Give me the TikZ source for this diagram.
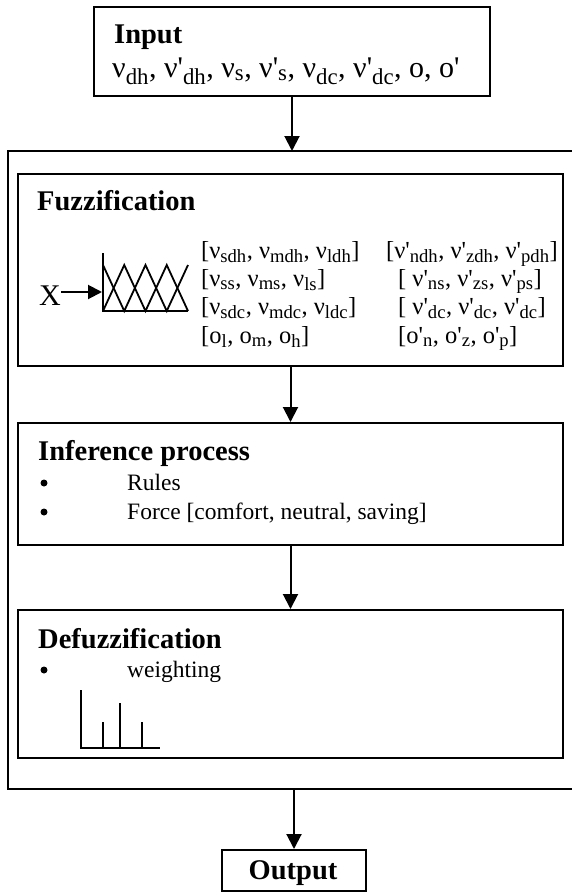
\documentclass[tikz,border=0pt]{standalone}
\usepackage{fontspec}
\newfontfamily\tm{Liberation Serif}
\usetikzlibrary{arrows.meta}
\renewcommand\defaultscriptratio{.76}
\newcommand\sbx[1]{\textsubscript{#1}}
\tikzset{
  box/.style={draw, line width=2pt, inner sep=0pt, anchor=north west},
  hd/.style={font=\tm\fontsize{28.5}{32}\selectfont\bfseries, anchor=base west, inner sep=0pt},
  big/.style={font=\tm\fontsize{30}{32}\selectfont, anchor=base west, inner sep=0pt},
  bd/.style={font=\tm\fontsize{23.5}{27}\selectfont, anchor=base west, inner sep=0pt},
  row/.style={font=\tm\fontsize{24.5}{27}\selectfont, anchor=base west, inner sep=0pt},
  dot/.style={circle, fill, inner sep=0pt, minimum size=7pt},
  arr/.style={line width=2pt, -{Triangle[length=15pt,width=15pt]}},
  sarr/.style={line width=2pt, -{Triangle[length=14pt,width=14pt]}},
  ln/.style={line width=2pt},
  pl/.style={line width=1.8pt}
}
\begin{document}
\begin{tikzpicture}[x=1pt,y=-1pt]
\useasboundingbox (0,0) rectangle (572,894);
% input
\node[box, minimum width=396pt, minimum height=89pt] (inbox) at (93,6) {};
\node[hd] (intitle) at (114,43) {Input};
\node[big] (inline) at (112,77) {ν\sbx{dh}, ν'\sbx{dh}, ν\sbx{s}, ν'\sbx{s}, ν\sbx{dc}, ν'\sbx{dc}, o, o'};
% outer frame (open at right)
\coordinate (otr) at (572,151);
\coordinate (otl) at (8,151);
\coordinate (obl) at (8,789);
\coordinate (obr) at (572,789);
\draw[ln] (otr) -- (otl) -- (obl) -- (obr);
\draw[arr] (inbox.south) -- (inbox.south |- otl);
% fuzzification
\node[box, minimum width=545pt, minimum height=192pt] (fuz) at (17,173) {};
\node[hd] (fuztitle) at (37,210) {Fuzzification};
\node[big] (xlab) at (39,305) {X};
\coordinate (ax0) at (103,253);
\coordinate (ax1) at (103,311);
\coordinate (ax2) at (188,311);
\draw[sarr] (xlab.east |- 0,292) -- (102,292);
\draw[pl] (ax0) -- (ax1) -- (ax2);
\draw[pl] (103,265) -- (124.25,311) -- (145.5,265) -- (166.75,311) -- (188,265);
\draw[pl] (103,311) -- (124.25,265) -- (145.5,311) -- (166.75,265) -- (188,311);
\node[row] (l1) at (201,258) {[ν\sbx{sdh}, ν\sbx{mdh}, ν\sbx{ldh}]};
\node[row] (l2) at (201,286) {[ν\sbx{ss}, ν\sbx{ms}, ν\sbx{ls}]};
\node[row] (l3) at (201,314) {[ν\sbx{sdc}, ν\sbx{mdc}, ν\sbx{ldc}]};
\node[row] (l4) at (201,343) {[o\sbx{l}, o\sbx{m}, o\sbx{h}]};
\node[row] (r1) at (386,258) {[ν'\sbx{ndh}, ν'\sbx{zdh}, ν'\sbx{pdh}]};
\node[row] (r2) at (398,286) {[ ν'\sbx{ns}, ν'\sbx{zs}, ν'\sbx{ps}]};
\node[row] (r3) at (398,314) {[ ν'\sbx{dc}, ν'\sbx{dc}, ν'\sbx{dc}]};
\node[row] (r4) at (398,343) {[o'\sbx{n}, o'\sbx{z}, o'\sbx{p}]};
% inference
\node[box, minimum width=545pt, minimum height=122pt] (inf) at (17,422) {};
\draw[arr] (fuz.south) -- (inf.north);
\node[hd] (inftitle) at (38,460) {Inference process};
\node[dot] (b1) at (44,483) {};
\node[bd] (t1) at (127,490) {Rules};
\node[dot] (b2) at (44,512) {};
\node[bd] (t2) at (127,519) {Force [comfort, neutral, saving]};
% defuzzification
\node[box, minimum width=545pt, minimum height=148pt] (def) at (17,609) {};
\draw[arr] (inf.south) -- (def.north);
\node[hd] (deftitle) at (38,648) {Defuzzification};
\node[dot] (b3) at (44,670) {};
\node[bd] (t3) at (127,677) {weighting};
\coordinate (c0) at (81,690);
\coordinate (c1) at (81,748);
\coordinate (c2) at (160,748);
\draw[pl] (c0) -- (c1) -- (c2);
\draw[pl] (103,748) -- (103,722);
\draw[pl] (120,748) -- (120,703);
\draw[pl] (142,748) -- (142,722);
% output
\node[box, minimum width=144pt, minimum height=41pt] (outb) at (221,849) {};
\draw[arr] (outb.north |- obl) -- (outb.north);
\node[hd, anchor=base] (outt) at (293,879) {Output};
\end{tikzpicture}
\end{document}
